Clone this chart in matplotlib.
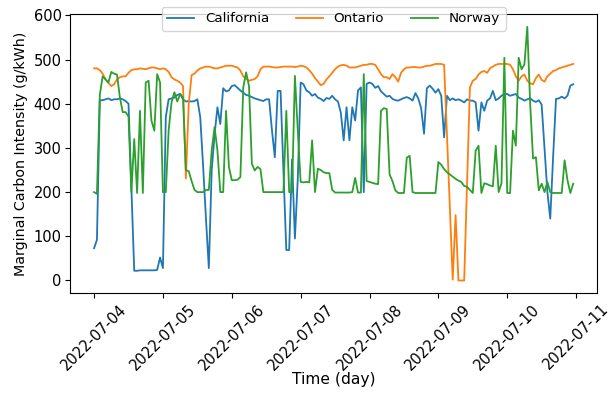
import numpy as np
import pandas as pd
import matplotlib
matplotlib.use("Agg")
import matplotlib.pyplot as plt
import matplotlib.dates as mdates

start = "2022-07-04"
n_hours = 168

california = [
    73, 92, 408, 408, 410, 412, 408, 410, 410, 412, 410, 406, 400, 210, 22, 22, 23, 23, 23, 23, 23, 23, 24, 52,
    28, 370, 410, 412, 414, 420, 422, 410, 405, 406, 405, 406, 410, 370, 260, 140, 28, 250, 330, 392, 354, 435, 428, 430,
    440, 442, 436, 430, 425, 420, 418, 415, 412, 410, 408, 406, 410, 410, 340, 279, 429, 429, 250, 69, 69, 274, 95, 230,
    448, 444, 430, 426, 418, 422, 414, 411, 406, 413, 411, 418, 410, 405, 380, 317, 392, 317, 392, 362, 430, 437, 200, 445,
    448, 445, 436, 440, 428, 422, 416, 418, 411, 408, 407, 410, 413, 415, 412, 407, 424, 412, 390, 332, 435, 441, 434, 425,
    433, 418, 324, 418, 408, 412, 408, 410, 407, 403, 410, 407, 407, 403, 339, 403, 384, 407, 412, 429, 408, 412, 418, 422,
    422, 418, 420, 422, 414, 411, 407, 410, 412, 407, 404, 408, 398, 300, 200, 140, 280, 411, 412, 416, 412, 418, 441, 444,
]

ontario = [
    480, 480, 476, 468, 455, 447, 440, 444, 455, 460, 462, 462, 470, 476, 478, 478, 480, 479, 478, 480, 482, 482, 480, 478,
    480, 478, 472, 460, 455, 452, 448, 440, 231, 400, 465, 468, 475, 480, 482, 484, 484, 482, 480, 480, 482, 484, 486, 486,
    486, 484, 482, 475, 462, 456, 452, 454, 456, 462, 478, 484, 484, 484, 483, 482, 482, 483, 484, 484, 484, 484, 483, 484,
    486, 485, 482, 476, 468, 458, 450, 442, 445, 455, 462, 470, 478, 484, 487, 488, 486, 482, 482, 482, 484, 486, 488, 488,
    490, 490, 488, 478, 467, 460, 460, 456, 467, 460, 450, 470, 478, 482, 482, 483, 483, 482, 482, 484, 486, 486, 488, 490,
    490, 490, 488, 330, 165, 2, 148, 0, 0, 0, 220, 437, 452, 456, 466, 472, 474, 470, 480, 484, 488, 490, 490, 490,
    490, 488, 478, 462, 452, 462, 466, 452, 446, 444, 458, 466, 454, 450, 462, 468, 474, 476, 480, 482, 484, 486, 488, 490,
]

norway = [
    200, 196, 420, 462, 455, 448, 472, 468, 466, 414, 381, 381, 371, 200, 320, 198, 384, 198, 448, 452, 362, 339, 467, 448,
    200, 200, 340, 403, 426, 405, 422, 414, 250, 247, 225, 205, 200, 200, 200, 205, 205, 294, 347, 294, 200, 200, 384, 257,
    227, 227, 228, 234, 437, 471, 440, 264, 249, 257, 252, 200, 200, 200, 200, 200, 200, 200, 200, 384, 200, 200, 463, 340,
    223, 222, 223, 222, 317, 200, 253, 250, 245, 243, 243, 205, 199, 199, 199, 199, 199, 199, 200, 232, 199, 199, 467, 225,
    223, 221, 219, 218, 384, 390, 388, 240, 225, 204, 198, 198, 198, 278, 282, 200, 198, 198, 198, 198, 198, 198, 198, 198,
    268, 262, 252, 245, 240, 235, 230, 226, 223, 214, 212, 205, 198, 294, 305, 198, 220, 218, 215, 213, 305, 200, 220, 504,
    198, 198, 339, 305, 504, 478, 489, 574, 400, 276, 279, 204, 219, 200, 223, 200, 198, 198, 198, 198, 272, 227, 198, 219,
]

series_names = ["California", "Ontario", "Norway"]
x_label = "Time (day)"
y_label = "Marginal Carbon Intensity (g/kWh)"

times = pd.date_range(start, periods=n_hours, freq="h")

fig = plt.figure(figsize=(6.15, 3.93), dpi=100)
ax = fig.add_axes([0.114, 0.254, 0.857, 0.710])

for name, vals in zip(series_names, [california, ontario, norway]):
    ax.plot(times, vals, label=name, linewidth=1.3)

ax.xaxis.set_major_locator(mdates.DayLocator())
ax.xaxis.set_major_formatter(mdates.DateFormatter("%Y-%m-%d"))
ax.tick_params(axis="both", labelsize=10.5, pad=2.5)
for lbl in ax.get_xticklabels():
    lbl.set_rotation(45)

ax.set_xlabel(x_label, fontsize=11.2)
ax.xaxis.set_label_coords(0.5, -0.282)
ax.set_ylabel(y_label, fontsize=10.3)
ax.yaxis.set_label_coords(-0.079, 0.5)
ax.set_yticks([0, 100, 200, 300, 400, 500, 600])

ax.legend(loc="upper center", bbox_to_anchor=(0.5, 1.05), ncol=3, fontsize=9.7)

fig.savefig("out.png", dpi=100)
